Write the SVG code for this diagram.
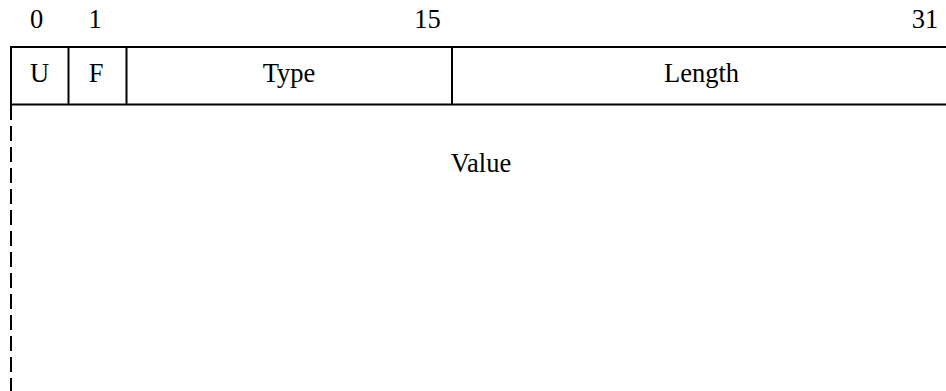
<svg xmlns="http://www.w3.org/2000/svg" width="946" height="391" viewBox="0 0 946 391">
  <style>
    .t { font-family: "Liberation Serif", "Times New Roman", serif; font-size: 26.5px; fill: #000; text-anchor: middle; }
    .ln { stroke: #000; stroke-width: 2; fill: none; }
    .dash { stroke-dasharray: 15 6; }
  </style>
  <rect width="946" height="391" fill="#fff"/>

  <!-- bit position labels -->
  <g id="bits">
    <text class="t" x="36.7" y="28.3">0</text>
    <text class="t" x="95" y="28.3">1</text>
    <text class="t" x="427.5" y="28.3">15</text>
    <text class="t" x="925" y="28.3">31</text>
  </g>

  <!-- header row and value area outlines -->
  <g id="frame">
    <line class="ln" x1="11" y1="47" x2="946" y2="47"/>
    <line class="ln" x1="11" y1="104.5" x2="946" y2="104.5"/>
    <line class="ln" x1="11" y1="46" x2="11" y2="105"/>
    <line class="ln" x1="68.5" y1="47" x2="68.5" y2="104.5"/>
    <line class="ln" x1="126.5" y1="47" x2="126.5" y2="104.5"/>
    <line class="ln" x1="452" y1="47" x2="452" y2="104.5"/>
    <line class="ln dash" x1="11" y1="105" x2="11" y2="391"/>
  </g>

  <g id="field-u"><text class="t" x="39.5" y="82">U</text></g>
  <g id="field-f"><text class="t" x="96" y="82">F</text></g>
  <g id="field-type"><text class="t" x="289" y="82">Type</text></g>
  <g id="field-length"><text class="t" x="701.5" y="82">Length</text></g>
  <g id="field-value"><text class="t" x="481" y="171.5">Value</text></g>
</svg>
